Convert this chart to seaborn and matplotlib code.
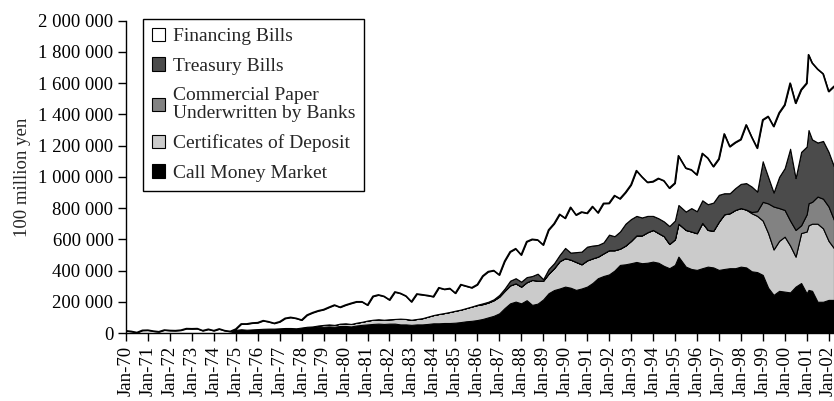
import pandas as pd
import numpy as np
import matplotlib
matplotlib.use("Agg")
import matplotlib.pyplot as plt
import matplotlib.dates as mdates
from matplotlib.ticker import FuncFormatter
import seaborn as sns

# values, in thousands of "100 million yen"
dates = [
    "1970-01", "1970-04", "1970-07", "1970-10",
    "1971-01", "1971-04", "1971-07", "1971-10",
    "1972-01", "1972-04", "1972-07", "1972-10",
    "1973-01", "1973-04", "1973-07", "1973-10",
    "1974-01", "1974-04", "1974-07", "1974-10",
    "1975-01", "1975-04", "1975-07", "1975-10",
    "1976-01", "1976-04", "1976-07", "1976-10",
    "1977-01", "1977-04", "1977-07", "1977-10",
    "1978-01", "1978-04", "1978-07", "1978-10",
    "1979-01", "1979-04", "1979-07", "1979-10",
    "1980-01", "1980-04", "1980-07", "1980-10",
    "1981-01", "1981-04", "1981-07", "1981-10",
    "1982-01", "1982-04", "1982-07", "1982-10",
    "1983-01", "1983-04", "1983-07", "1983-10",
    "1984-01", "1984-04", "1984-07", "1984-10",
    "1985-01", "1985-04", "1985-07", "1985-10",
    "1986-01", "1986-04", "1986-07", "1986-10",
    "1987-01", "1987-04", "1987-07", "1987-10",
    "1988-01", "1988-04", "1988-07", "1988-10",
    "1989-01", "1989-04", "1989-07", "1989-10",
    "1990-01", "1990-04", "1990-07", "1990-10",
    "1991-01", "1991-04", "1991-07", "1991-10",
    "1992-01", "1992-04", "1992-07", "1992-10",
    "1993-01", "1993-04", "1993-07", "1993-10",
    "1994-01", "1994-04", "1994-07", "1994-10",
    "1995-01", "1995-03", "1995-07", "1995-10",
    "1996-01", "1996-04", "1996-07", "1996-10",
    "1997-01", "1997-04", "1997-07", "1997-10",
    "1998-01", "1998-04", "1998-07", "1998-10",
    "1999-01", "1999-04", "1999-07", "1999-10",
    "2000-01", "2000-04", "2000-07", "2000-10",
    "2001-01", "2001-02", "2001-04", "2001-07", "2001-10",
    "2002-01", "2002-04",
]

call_money = [
    0, 0, 0, 0, 0, 0, 0, 0, 0, 0, 0, 0, 0, 0, 0, 0, 0, 0, 0, 0,
    20, 24, 21, 23, 25, 27, 28, 28, 30, 32, 32, 30,
    35, 38, 36, 40, 40, 42, 40, 45, 45, 42, 48, 52,
    55, 58, 60, 58, 60, 60, 55, 55, 52, 55, 55, 58,
    62, 62, 64, 64, 66, 70, 75, 78, 83, 90, 100, 110,
    126, 160, 190, 201, 190, 210, 180, 188, 215, 255, 275, 285,
    297, 290, 276, 285, 297, 320, 351, 365, 375, 400, 436, 440,
    447, 455, 447, 450, 457, 450, 430, 415, 436, 489, 425, 410,
    404, 415, 425, 420, 404, 410, 415, 415, 425, 420, 395, 390,
    372, 290, 244, 270, 265, 260, 297, 320,
    254, 276, 270, 200, 200, 212, 212,
]

cert_deposit = [
    0, 0, 0, 0, 0, 0, 0, 0, 0, 0, 0, 0, 0, 0, 0, 0, 0, 0, 0, 0,
    0, 0, 0, 0, 0, 0, 0, 0, 0, 0, 0, 0,
    0, 2, 6, 8, 12, 13, 12, 15, 17, 16, 18, 20,
    25, 27, 28, 27, 28, 30, 37, 35, 33, 35, 40, 47,
    53, 60, 64, 71, 77, 80, 85, 92, 96, 95, 95, 100,
    107, 110, 115, 117, 107, 115, 160, 147, 120, 125, 140, 175,
    182, 180, 179, 155, 168, 158, 138, 145, 155, 130, 104, 120,
    143, 170, 178, 195, 203, 190, 190, 155, 164, 211, 235, 240,
    235, 290, 235, 235, 309, 350, 352, 373, 375, 370, 372, 360,
    348, 350, 291, 320, 352, 300, 192, 320,
    396, 414, 430, 500, 470, 378, 331,
]

comm_paper = [0] * 114 + [
    8, 30,
    120, 190, 275, 210, 171, 160, 171, 50,
    110, 141, 140, 174, 190, 220, 181,
]

treasury = [0] * 64 + [
    2, 5, 5, 6,
    11, 15, 30, 33, 32, 33, 25, 45, 10, 30, 32, 40,
    66, 45, 63, 81, 88, 82, 75, 70, 100, 90, 110, 140,
    140, 125, 115, 105, 90, 95, 95, 115, 120, 120, 118, 150,
    141, 145, 165, 180, 172, 135, 128, 140, 155, 170, 163, 126,
    260, 170, 90, 200, 268, 460, 332, 470,
    434, 469, 400, 346, 370, 350, 342,
]

financing = [
    14, 10, 3, 17, 18, 12, 8, 19, 16, 15, 18, 28, 27, 28, 15, 24, 15, 26, 15, 10,
    5, 34, 37, 41, 41, 52, 44, 34, 42, 62, 68, 64,
    48, 75, 88, 94, 98, 110, 127, 105, 117, 132, 134, 128,
    99, 150, 156, 150, 124, 173, 162, 147, 115, 160, 150, 135,
    118, 168, 152, 150, 112, 160, 140, 120, 129, 175, 193, 184,
    128, 175, 185, 189, 171, 227, 235, 216, 219, 250, 253, 260,
    190, 290, 238, 254, 214, 250, 206, 250, 201, 260, 210, 200,
    219, 290, 260, 215, 220, 255, 260, 243, 240, 315, 278, 245,
    233, 300, 295, 231, 230, 380, 299, 292, 285, 373, 317, 278,
    265, 387, 423, 410, 405, 420, 480, 398,
    406, 482, 490, 470, 430, 387, 514,
]

labels = ["Call Money Market", "Certificates of Deposit",
          "Commercial Paper\nUnderwritten by Banks", "Treasury Bills",
          "Financing Bills"]
colors = ["#000000", "#cbcbcb", "#828282", "#4b4b4b", "#ffffff"]

df = pd.DataFrame({
    "date": pd.to_datetime(dates),
    "cmm": np.array(call_money) * 1000,
    "cd": np.array(cert_deposit) * 1000,
    "cp": np.array(comm_paper) * 1000,
    "tb": np.array(treasury) * 1000,
    "fb": np.array(financing) * 1000,
})
df["total"] = df[["cmm", "cd", "cp", "tb", "fb"]].sum(axis=1)

sns.set_style("ticks")
plt.rcParams["font.family"] = ["Liberation Serif", "DejaVu Serif"]

fig = plt.figure(figsize=(8.34, 4.01), dpi=100)
ax = fig.add_axes([126 / 834, 68 / 401, 708 / 834, 312.3 / 401])

polys = ax.stackplot(df["date"], df["cmm"], df["cd"], df["cp"], df["tb"], df["fb"],
                     labels=labels, colors=colors, edgecolor="black", linewidth=0.8)
sns.lineplot(data=df, x="date", y="total", color="black", linewidth=1.2, ax=ax)

ax.set_xlim(pd.Timestamp("1970-01-01"), pd.Timestamp("2002-04-01"))
ax.set_ylim(0, 2000000)
ax.set_yticks(np.arange(0, 2000001, 200000))
ax.yaxis.set_major_formatter(FuncFormatter(lambda v, p: f"{int(v):,}".replace(",", " ")))
ax.xaxis.set_major_locator(mdates.YearLocator())
ax.xaxis.set_major_formatter(mdates.DateFormatter("%b-%y"))
plt.setp(ax.get_xticklabels(), rotation=90)

ax.tick_params(axis="both", direction="out", length=6, width=1, labelsize=13.5,
               colors="black", pad=3)
ax.set_xlabel("")
ax.set_ylabel("100 million yen", fontsize=13.5)
ax.yaxis.set_label_coords(-0.134, 0.5)
sns.despine(ax=ax)
for s in ["left", "bottom"]:
    ax.spines[s].set_color("black")
    ax.spines[s].set_linewidth(1)

handles, labs = ax.get_legend_handles_labels()
leg = ax.legend(handles[:5][::-1], labs[:5][::-1], loc="upper left",
                bbox_to_anchor=(143 / 834, (401 - 19) / 401), bbox_transform=fig.transFigure,
                borderaxespad=0, fontsize=14, frameon=True, fancybox=False,
                edgecolor="black", framealpha=1, handlelength=0.7, handleheight=0.7,
                handletextpad=0.4, labelspacing=0.62, borderpad=0.45)
leg.get_frame().set_linewidth(1)
for t in leg.get_texts():
    t.set_linespacing(1.1)

fig.savefig("out.png", dpi=100)
